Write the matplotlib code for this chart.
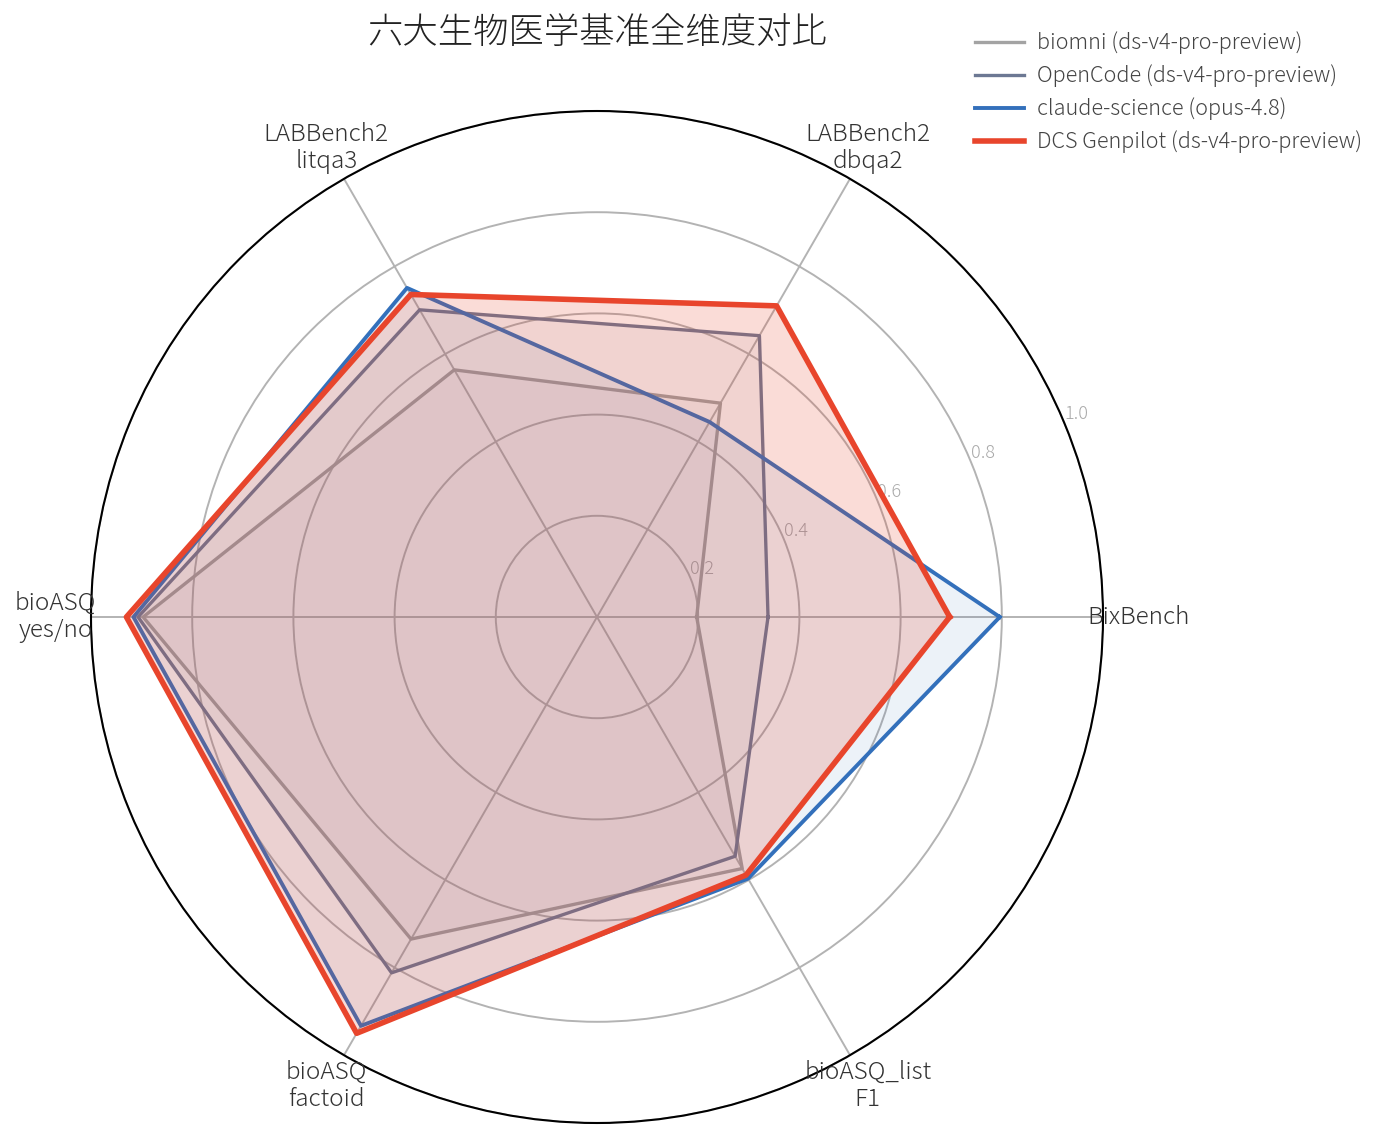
import numpy as np
import matplotlib
matplotlib.use('Agg')
import matplotlib.pyplot as plt

plt.rcParams['font.family'] = ['Noto Sans CJK JP', 'DejaVu Sans']
plt.rcParams['font.weight'] = 300

categories = ['BixBench', 'LABBench2\ndbqa2', 'LABBench2\nlitqa3',
              'bioASQ\nyes/no', 'bioASQ\nfactoid', 'bioASQ_list\nF1']
series_names = ['biomni (ds-v4-pro-preview)', 'OpenCode (ds-v4-pro-preview)',
                'claude-science (opus-4.8)', 'DCS Genpilot (ds-v4-pro-preview)']
biomni = [0.197, 0.488, 0.564, 0.897, 0.735, 0.574]
opencode = [0.338, 0.642, 0.701, 0.907, 0.812, 0.546]
claude = [0.796, 0.445, 0.751, 0.916, 0.933, 0.597]
dcs = [0.697, 0.710, 0.736, 0.930, 0.950, 0.589]
r_ticks = [0.2, 0.4, 0.6, 0.8, 1.0]

colors = ['#a3a3a3', '#6c7893', '#3370bb', '#e8452c']
widths = [2.4, 2.4, 2.8, 4.0]
alphas = [0.07, 0.07, 0.09, 0.19]

n = len(categories)
angles = np.linspace(0, 2 * np.pi, n, endpoint=False)
angles_c = np.concatenate([angles, angles[:1]])

fig = plt.figure(figsize=(13.94, 11.42), dpi=100)
ax = fig.add_axes([91 / 1394, 19 / 1142, 1012 / 1394, 1012 / 1142], projection='polar')

for i, (name, vals) in enumerate(zip(series_names, [biomni, opencode, claude, dcs])):
    v = np.concatenate([vals, vals[:1]])
    ax.plot(angles_c, v, color=colors[i], lw=widths[i], label=name, zorder=3 + 2 * i)
    ax.fill(angles_c, v, color=colors[i], alpha=alphas[i], zorder=4 + 2 * i, lw=0)

ax.set_ylim(0, 1.0)
ax.set_xticks(angles)
ax.set_xticklabels([])
ax.set_yticks(r_ticks)
ax.set_yticklabels([f'{t:.1f}' for t in r_ticks], color='#aaaaaa', fontsize=13)
ax.set_rlabel_position(22.5)
ax.grid(color='#b3b3b3', lw=1.4)
ax.spines['polar'].set_color('black')
ax.spines['polar'].set_linewidth(1.5)

for a, lab in zip(angles, categories):
    ax.text(a, 1.07, lab, ha='center', va='center', fontsize=17.5, color='#333333',
            linespacing=1.1)

fig.text(597 / 1394, 1 - 33 / 1142, '六大生物医学基准全维度对比', ha='center', va='center',
         fontsize=25.5, color='#222222')

ax.legend(loc='upper left', bbox_to_anchor=(955 / 1394, 1 - 12 / 1142),
          bbox_transform=fig.transFigure, frameon=False, fontsize=15.6,
          handlelength=2.3, handletextpad=0.6, labelspacing=0.47, labelcolor='#444444')

fig.savefig('out.png', dpi=100)
